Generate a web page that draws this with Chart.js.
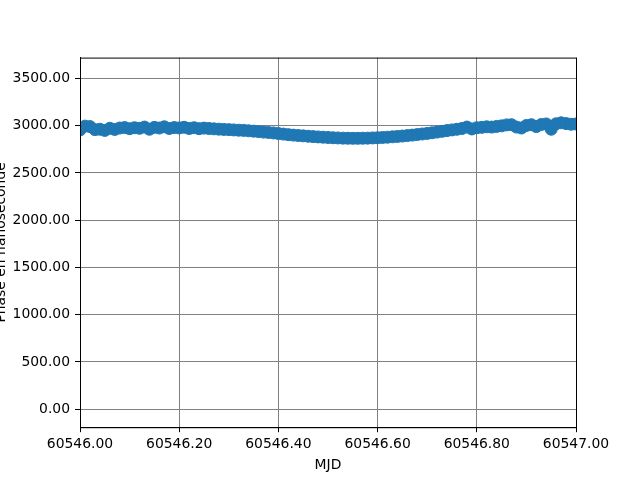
<!DOCTYPE html>
<html>
<head>
<meta charset="utf-8">
<script src="https://cdn.jsdelivr.net/npm/chart.js@4/dist/chart.umd.min.js"></script>
<style>
  html, body { margin: 0; padding: 0; background: #fff; }
  #chart { display: block; }
</style>
</head>
<body>
<canvas id="chart" width="640" height="480"></canvas>
<script>
// sample times (MJD)
const mjd = [
  60546.00, 60546.01, 60546.02, 60546.03, 60546.04, 60546.05, 60546.06, 60546.07, 60546.08, 60546.09,
  60546.10, 60546.11, 60546.12, 60546.13, 60546.14, 60546.15, 60546.16, 60546.17, 60546.18, 60546.19,
  60546.20, 60546.21, 60546.22, 60546.23, 60546.24, 60546.25, 60546.26, 60546.27, 60546.28, 60546.29,
  60546.30, 60546.31, 60546.32, 60546.33, 60546.34, 60546.35, 60546.36, 60546.37, 60546.38, 60546.39,
  60546.40, 60546.41, 60546.42, 60546.43, 60546.44, 60546.45, 60546.46, 60546.47, 60546.48, 60546.49,
  60546.50, 60546.51, 60546.52, 60546.53, 60546.54, 60546.55, 60546.56, 60546.57, 60546.58, 60546.59,
  60546.60, 60546.61, 60546.62, 60546.63, 60546.64, 60546.65, 60546.66, 60546.67, 60546.68, 60546.69,
  60546.70, 60546.71, 60546.72, 60546.73, 60546.74, 60546.75, 60546.76, 60546.77, 60546.78, 60546.79,
  60546.80, 60546.81, 60546.82, 60546.83, 60546.84, 60546.85, 60546.86, 60546.87, 60546.88, 60546.89,
  60546.90, 60546.91, 60546.92, 60546.93, 60546.94, 60546.95, 60546.96, 60546.97, 60546.98, 60546.99,
  60547.00
];

// phase in ns
const phase = [
  2955, 2995, 2990, 2958, 2962, 2950, 2972, 2960, 2975, 2980,
  2968, 2978, 2972, 2985, 2962, 2982, 2975, 2988, 2970, 2980,
  2976, 2983, 2970, 2978, 2968, 2974, 2970, 2966, 2963, 2960,
  2958, 2955, 2952, 2950, 2946, 2942, 2937, 2932, 2928, 2923,
  2917, 2911, 2905, 2900, 2896, 2892, 2888, 2884, 2881, 2878,
  2875, 2872, 2870, 2868, 2867, 2866, 2866, 2867, 2868, 2870,
  2872, 2875, 2878, 2882, 2886, 2890, 2895, 2900, 2906, 2912,
  2918, 2925, 2932, 2940, 2948, 2955, 2962, 2970, 2985, 2965,
  2978, 2982, 2988, 2985, 2992, 2998, 3008, 3010, 2985, 2975,
  3002, 3010, 2990, 3012, 3018, 2962, 3020, 3030, 3022, 3015,
  3018
];

const xTicks = [60546.0, 60546.2, 60546.4, 60546.6, 60546.8, 60547.0];
const yTicks = [0, 500, 1000, 1500, 2000, 2500, 3000, 3500];

const FONT = { family: "'DejaVu Sans', sans-serif", size: 13.9 };

// frame + axis labels, drawn like matplotlib does
const framePlugin = {
  id: "frame",
  afterDraw(chart) {
    const { ctx, chartArea: a } = chart;
    ctx.save();
    ctx.strokeStyle = "#000";
    ctx.lineWidth = 1;
    ctx.strokeRect(a.left + 0.5, a.top + 0.5, a.right - a.left, a.bottom - a.top);

    ctx.fillStyle = "#000";
    ctx.font = `${FONT.size}px ${FONT.family}`;
    ctx.textAlign = "center";
    ctx.textBaseline = "middle";
    ctx.fillText("MJD", (a.left + a.right) / 2, 465);

    ctx.translate(1, (a.top + a.bottom) / 2);
    ctx.rotate(-Math.PI / 2);
    ctx.fillText("Phase en nanoseconde", 0, 0);
    ctx.restore();
  },
};

new Chart(document.getElementById("chart"), {
  type: "scatter",
  data: {
    datasets: [
      {
        data: mjd.map((x, i) => ({ x, y: phase[i] })),
        backgroundColor: "#1f77b4",
        borderColor: "#1f77b4",
        pointRadius: 6,
        borderWidth: 1,
        clip: 0,
      },
    ],
  },
  options: {
    responsive: false,
    animation: false,
    devicePixelRatio: 1,
    layout: { padding: { top: 57.6, right: 64, left: 0, bottom: 0 } },
    plugins: { legend: { display: false }, tooltip: { enabled: false } },
    scales: {
      x: {
        type: "linear",
        min: 60546,
        max: 60547,
        afterFit: (s) => { s.height = 52.8; },
        afterBuildTicks: (s) => { s.ticks = xTicks.map((v) => ({ value: v })); },
        grid: { color: "#808080", lineWidth: 1, tickColor: "#000", tickLength: 5 },
        border: { color: "#000" },
        ticks: {
          color: "#000",
          font: FONT,
          padding: 4,
          maxRotation: 0,
          autoSkip: false,
          callback: (v) => Number(v).toFixed(2),
        },
      },
      y: {
        min: -190,
        max: 3720,
        afterFit: (s) => { s.width = 80; },
        afterBuildTicks: (s) => { s.ticks = yTicks.map((v) => ({ value: v })); },
        grid: { color: "#808080", lineWidth: 1, tickColor: "#000", tickLength: 5 },
        border: { color: "#000" },
        ticks: {
          color: "#000",
          font: FONT,
          padding: 5,
          autoSkip: false,
          callback: (v) => Number(v).toFixed(2),
        },
      },
    },
  },
  plugins: [framePlugin],
});
</script>
</body>
</html>
